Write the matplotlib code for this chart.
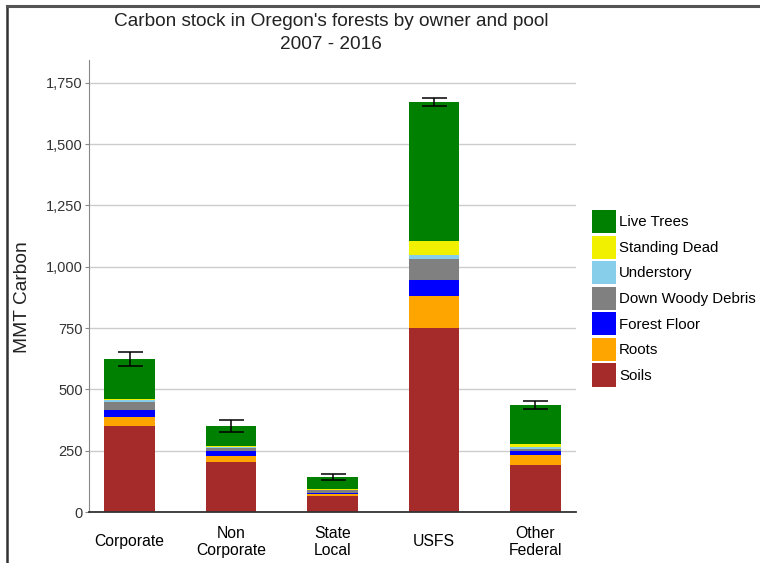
import matplotlib
matplotlib.use("Agg")
import matplotlib.pyplot as plt
from matplotlib.lines import Line2D
from matplotlib.ticker import FuncFormatter
import numpy as np

plt.rcParams['font.family'] = ['Liberation Sans', 'DejaVu Sans']

owners = ["Corporate", "Non\nCorporate", "State\nLocal", "USFS", "Other\nFederal"]
pools = ["Soils", "Roots", "Forest Floor", "Down Woody Debris",
         "Understory", "Standing Dead", "Live Trees"]
pool_colors = ["#a52a2a", "#ffa500", "#0000ff", "#808080",
               "#87ceeb", "#f0f000", "#008000"]

# MMT carbon per pool, one value per owner
soils = [352, 205, 65, 749, 193]
roots = [37, 22, 10, 133, 38]
forest_floor = [27, 22, 4, 64, 16]
down_woody = [34, 10, 9, 84, 11]
understory = [7, 5, 3, 17, 8]
standing_dead = [5, 4, 2, 56, 10]
live_trees = [162, 83, 51, 569, 160]
total_err = [27, 24, 12, 18, 17]

series = [soils, roots, forest_floor, down_woody,
          understory, standing_dead, live_trees]

fig = plt.figure(figsize=(7.6, 5.63), dpi=100)
ax = fig.add_axes([89 / 760, 1 - 512 / 563, (576 - 89) / 760, (512 - 60) / 563])

x = np.arange(len(owners))
bottom = np.zeros(len(owners))
handles = []
for name, vals, col in zip(pools, series, pool_colors):
    b = ax.bar(x, vals, 0.5, bottom=bottom, color=col, label=name,
               edgecolor="none", zorder=2)
    handles.append(b)
    bottom += np.array(vals)

ax.errorbar(x, bottom, yerr=total_err, fmt="none", ecolor="black",
            elinewidth=1.1, capsize=9, capthick=1.1, zorder=3)

ax.set_xlim(-0.4, 4.4)
ax.set_ylim(0, 1843)
ax.set_yticks(np.arange(0, 1751, 250))
ax.yaxis.set_major_formatter(FuncFormatter(lambda v, p: f"{int(v):,}"))
ax.set_xticks(x)
ax.set_xticklabels(owners, fontsize=11.3, linespacing=1.15)
for lbl in ax.get_xticklabels():
    lbl.set_verticalalignment("center")
ax.tick_params(axis="x", length=0, pad=21.5)
ax.tick_params(axis="y", length=3, width=0.8, color="#888888",
               labelsize=10.5, labelcolor="#333333", pad=1.5)
ax.grid(axis="y", color="#cccccc", linewidth=1.0, zorder=0)
ax.set_axisbelow(True)

for s in ["top", "right"]:
    ax.spines[s].set_visible(False)
ax.spines["left"].set_color("#888888")
ax.spines["left"].set_linewidth(0.8)
ax.spines["bottom"].set_color("#333333")
ax.spines["bottom"].set_linewidth(1.3)

fig.text(23 / 760, 1 - 297 / 563, "MMT Carbon", rotation=90, fontsize=13.8,
         ha="center", va="center", color="#222222")

fig.text(331 / 760, 1 - 33 / 563, "Carbon stock in Oregon's forests by owner and pool\n2007 - 2016",
         ha="center", va="center", fontsize=13.7, linespacing=1.4, color="#222222")

ax.legend(handles[::-1], pools[::-1], loc="upper left",
          bbox_to_anchor=(592 / 760, 1 - 210 / 563), bbox_transform=fig.transFigure,
          frameon=False, fontsize=10.8, handlelength=1.6, handleheight=2.0,
          handletextpad=0.2, labelspacing=0.16, borderpad=0, borderaxespad=0)

# frame around the picture (left and top edges)
fig.add_artist(Line2D([7 / 760, 7 / 760], [0, 1 - 6 / 563], transform=fig.transFigure,
                      color="#333333", linewidth=1.8))
fig.add_artist(Line2D([7 / 760, 1], [1 - 6 / 563, 1 - 6 / 563], transform=fig.transFigure,
                      color="#555555", linewidth=2.2))

fig.savefig("out.png", dpi=100)
